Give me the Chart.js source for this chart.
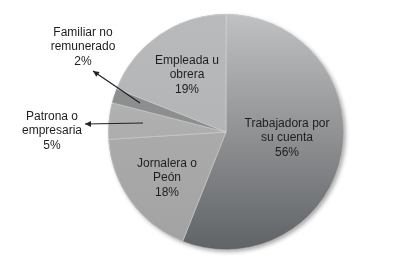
<!DOCTYPE html>
<html>
<head>
<meta charset="utf-8">
<script src="https://cdn.jsdelivr.net/npm/chart.js@4/dist/chart.umd.min.js"></script>
<style>
html,body{margin:0;padding:0;background:#fff;}
#c{display:block;}
</style>
</head>
<body>
<canvas id="c" width="399" height="260"></canvas>
<script>
const categories = ["Trabajadora por su cuenta", "Jornalera o Peón", "Patrona o empresaria", "Familiar no remunerado", "Empleada u obrera"];
const labelLines = [["Trabajadora por", "su cuenta"], ["Jornalera o", "Peón"], ["Patrona o", "empresaria"], ["Familiar no", "remunerado"], ["Empleada u", "obrera"]];
const values = [56, 18, 5, 2, 19];
const percentLabels = ["56%", "18%", "5%", "2%", "19%"];

// label anchor (centre of the text block) in pixels, and optional leader line
const labelPos = [
  {x: 287, y: 138}, {x: 167, y: 178}, {x: 52, y: 131}, {x: 83, y: 47}, {x: 187, y: 75}
];
const leaders = [null, null, {from: [143, 123], to: [85, 124]}, {from: [140, 103], to: [93, 71]}, null];

const gradStops = [
  ["#c0c1c2", "#606366"],
  ["#b3b3b3", "#a2a2a2"],
  ["#bdbdbd", "#9e9e9e"],
  ["#8f9091", "#8a8b8c"],
  ["#b9babb", "#aeafb0"]
];

function bg(ctx) {
  const chart = ctx.chart;
  const a = chart.chartArea;
  if (!a) return gradStops[ctx.dataIndex][0];
  const g = chart.ctx.createLinearGradient(0, a.top, 0, a.bottom);
  const s = gradStops[ctx.dataIndex];
  g.addColorStop(0, s[0]);
  g.addColorStop(1, s[1]);
  return g;
}

const shadowPlugin = {
  id: 'shadow',
  beforeDatasetsDraw(chart) {
    const c = chart.ctx;
    const m = chart.getDatasetMeta(0).data[0];
    c.save();
    c.beginPath();
    c.arc(m.x, m.y, m.outerRadius, 0, Math.PI * 2);
    c.shadowColor = 'rgba(0,0,0,0.35)';
    c.shadowBlur = 4;
    c.shadowOffsetX = 2;
    c.shadowOffsetY = 2;
    c.fillStyle = '#888';
    c.fill();
    c.restore();
  }
};

const labelPlugin = {
  id: 'labels',
  afterDatasetsDraw(chart) {
    const c = chart.ctx;
    c.save();
    c.strokeStyle = '#222';
    c.fillStyle = '#222';
    c.lineWidth = 1.2;
    leaders.forEach(l => {
      if (!l) return;
      const [x1, y1] = l.from, [x2, y2] = l.to;
      c.beginPath();
      c.moveTo(x1, y1);
      c.lineTo(x2, y2);
      c.stroke();
      const ang = Math.atan2(y2 - y1, x2 - x1);
      const L = 6, W = 3;
      c.beginPath();
      c.moveTo(x2, y2);
      c.lineTo(x2 - L * Math.cos(ang) + W * Math.sin(ang), y2 - L * Math.sin(ang) - W * Math.cos(ang));
      c.lineTo(x2 - L * Math.cos(ang) - W * Math.sin(ang), y2 - L * Math.sin(ang) + W * Math.cos(ang));
      c.closePath();
      c.fill();
    });
    c.font = '12px "Liberation Sans", Arial, sans-serif';
    c.textAlign = 'center';
    c.textBaseline = 'middle';
    c.fillStyle = '#1e1e1e';
    labelPos.forEach((p, i) => {
      const lines = labelLines[i].concat([percentLabels[i]]);
      const lh = 14.7;
      const y0 = p.y - lh * (lines.length - 1) / 2;
      lines.forEach((t, k) => c.fillText(t, p.x, y0 + k * lh));
    });
    c.restore();
  }
};

new Chart(document.getElementById('c'), {
  type: 'pie',
  data: {
    labels: categories,
    datasets: [{
      data: values,
      backgroundColor: bg,
      borderColor: 'rgba(225,225,225,0.7)',
      borderWidth: 0.6
    }]
  },
  options: {
    responsive: false,
    animation: false,
    layout: {padding: {left: 108, right: 55, top: 14, bottom: 10}},
    plugins: {legend: {display: false}, tooltip: {enabled: false}}
  },
  plugins: [shadowPlugin, labelPlugin]
});
</script>
</body>
</html>
